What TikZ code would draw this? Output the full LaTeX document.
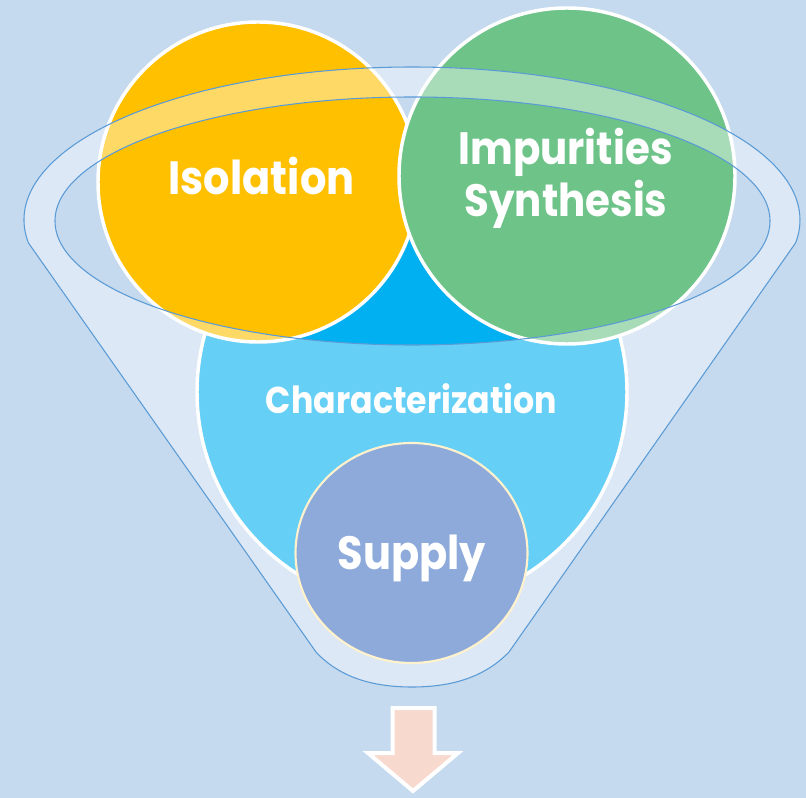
\documentclass[tikz,border=0pt]{standalone}
\usepackage{fontspec}
\setmainfont{Poppins}[FakeStretch=0.89]
\usetikzlibrary{shapes.geometric}
\definecolor{bgblue}{HTML}{C5DAEF}
\definecolor{yellowc}{HTML}{FFC000}
\definecolor{greenc}{HTML}{6EC389}
\definecolor{cyanc}{HTML}{00B0F0}
\definecolor{supplyc}{HTML}{8EAADB}
\definecolor{supplyedge}{HTML}{FFF2CC}
\definecolor{funnelline}{HTML}{5B9BD5}
\definecolor{arrowc}{HTML}{F8D9CE}
\tikzset{
  bigcircle/.style={circle, draw=white, line width=2.6pt, inner sep=0pt},
  lbl/.style={text=white, anchor=base, inner sep=0pt},
  funnelbody/.style={fill=white, fill opacity=0.4, even odd rule},
  funneledge/.style={draw=funnelline, line width=0.8pt},
  arrowshape/.style={draw=white, line width=3pt, fill=arrowc, line join=miter},
}
\begin{document}
\begin{tikzpicture}[x=0.75pt,y=-0.75pt]
\useasboundingbox (0,0) rectangle (806,798);
\fill[bgblue] (0,0) rectangle (806,798);

% circles
\node[bigcircle, fill=cyanc, minimum size=322.5pt] (charc) at (412,392) {};
\node[bigcircle, fill=yellowc, minimum size=240pt] (iso) at (258,182) {};
\node[bigcircle, fill=greenc, minimum size=252pt] (imp) at (567,176) {};

% funnel overlay
\path[funnelbody] (412,220) ++(171.4:388 and 153)
  arc[start angle=171.4, end angle=368.6, x radius=388, y radius=153]
  -- (509,652) .. controls (482,680) and (446,687) .. (412,687)
  .. controls (378,687) and (342,680) .. (316,652) -- cycle
  (412.5,221) ellipse [x radius=357.5, y radius=124];
\draw[funneledge] (412,220) ++(171.4:388 and 153)
  arc[start angle=171.4, end angle=368.6, x radius=388, y radius=153]
  -- (509,652) .. controls (482,680) and (446,687) .. (412,687)
  .. controls (378,687) and (342,680) .. (316,652) -- cycle;
\draw[funneledge] (412.5,221) ellipse [x radius=357.5, y radius=124];

% supply
\node[ellipse, draw=supplyedge, line width=1.6pt, fill=supplyc, minimum width=174pt, minimum height=165pt, inner sep=0pt] (sup) at (411.5,553) {};

% labels
\node[lbl, font=\bfseries\fontsize{35}{40}\selectfont] (isot) at (261.5,195) {Isolation};
\node[lbl, font=\bfseries\fontsize{34}{40}\selectfont] (impt) at (565.5,165) {Impurities};
\node[lbl, font=\bfseries\fontsize{34}{40}\selectfont] (synt) at (566,217) {Synthesis};
\node[lbl, font=\bfseries\fontsize{28}{32}\selectfont] (chart) at (411.5,413) {Characterization};
\node[lbl, font=\bfseries\fontsize{35}{40}\selectfont] (supt) at (412,569) {Supply};

% arrow
\draw[arrowshape] (392.5,708) -- (434.5,708) -- (434.5,753) -- (458,753) -- (413,791) -- (368,753) -- (392.5,753) -- cycle;
\end{tikzpicture}
\end{document}
